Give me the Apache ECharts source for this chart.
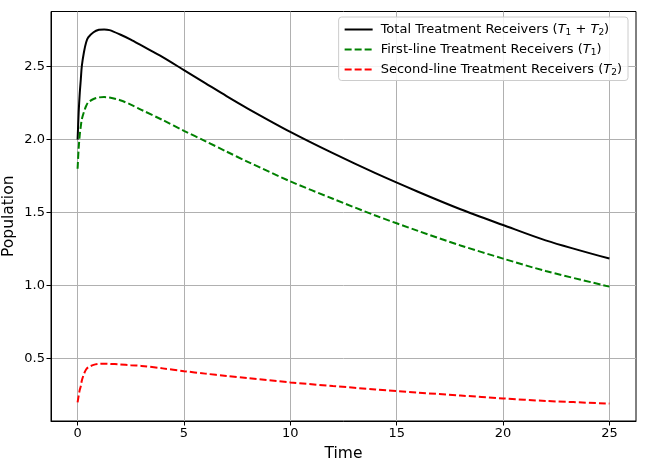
<!DOCTYPE html>
<html>
<head>
<meta charset="utf-8">
<script src="https://cdn.jsdelivr.net/npm/echarts@6/dist/echarts.min.js"></script>
<style>
html,body{margin:0;padding:0;background:#fff;}
#chart{width:652px;height:461px;}
</style>
</head>
<body>
<div id="chart"></div>
<script>
const time = [0, 0.05, 0.1, 0.15, 0.2, 0.3, 0.4, 0.5, 0.75, 1, 1.25, 1.5, 2, 2.5, 3, 4, 5, 6, 7, 8, 10, 12, 14, 16, 18, 20, 22, 25];
const total = [2.00, 2.185, 2.315, 2.41, 2.505, 2.60, 2.665, 2.70, 2.735, 2.752, 2.755, 2.75, 2.72, 2.685, 2.645, 2.565, 2.476, 2.387, 2.298, 2.213, 2.053, 1.907, 1.77, 1.643, 1.523, 1.415, 1.31, 1.185];
const firstLine = [1.80, 1.94, 2.03, 2.09, 2.14, 2.19, 2.23, 2.255, 2.278, 2.289, 2.291, 2.288, 2.27, 2.24, 2.204, 2.134, 2.06, 1.99, 1.918, 1.848, 1.714, 1.595, 1.48, 1.375, 1.275, 1.185, 1.10, 0.993];
const secondLine = [0.20, 0.245, 0.285, 0.31, 0.35, 0.395, 0.425, 0.44, 0.457, 0.464, 0.465, 0.464, 0.46, 0.455, 0.45, 0.433, 0.414, 0.397, 0.381, 0.366, 0.337, 0.312, 0.289, 0.267, 0.247, 0.227, 0.21, 0.192];
const xTicks = [0, 5, 10, 15, 20, 25];
const yTicks = [0.5, 1.0, 1.5, 2.0, 2.5];
const seriesNames = ['Total Treatment Receivers', 'First-line Treatment Receivers', 'Second-line Treatment Receivers'];

const pairs = arr => time.map((t, i) => [t, arr[i]]);
const font = 'DejaVu Sans';

const chart = echarts.init(document.getElementById('chart'), null, {renderer: 'canvas'});
chart.setOption({
  backgroundColor: '#fff',
  animation: false,
  grid: {left: 51, right: 16, top: 11.5, bottom: 40, containLabel: false, outerBoundsMode: 'none',
    show: true, borderColor: '#000', borderWidth: 1, backgroundColor: 'transparent'},
  xAxis: {
    type: 'value', min: -1.25, max: 26.25,
    name: 'Time', nameLocation: 'middle', nameGap: 25, nameMoveOverlap: false,
    nameTextStyle: {fontFamily: font, fontSize: 15.5, color: '#000'},
    axisLine: {show: true, onZero: false, lineStyle: {color: '#000', width: 1}},
    axisTick: {show: true, inside: false, length: 4.5, customValues: xTicks, lineStyle: {color: '#000'}},
    axisLabel: {customValues: xTicks, fontFamily: font, fontSize: 13, color: '#000', margin: 6},
    splitLine: {show: true, customValues: xTicks, lineStyle: {color: '#b0b0b0', width: 1}}
  },
  yAxis: {
    type: 'value', min: 0.0725, max: 2.8775,
    name: 'Population', nameLocation: 'middle', nameGap: 34, nameMoveOverlap: false,
    nameTextStyle: {fontFamily: font, fontSize: 15.5, color: '#000'},
    axisLine: {show: true, onZero: false, lineStyle: {color: '#000', width: 1}},
    axisTick: {show: true, inside: false, length: 4.5, customValues: yTicks, lineStyle: {color: '#000'}},
    axisLabel: {customValues: yTicks, fontFamily: font, fontSize: 13, color: '#000', margin: 6,
      formatter: v => v.toFixed(1)},
    splitLine: {show: true, customValues: yTicks, lineStyle: {color: '#b0b0b0', width: 1}}
  },
  legend: {
    orient: 'vertical', right: 24, top: 17,
    backgroundColor: 'rgba(255,255,255,0.85)', borderColor: '#cccccc', borderWidth: 1, borderRadius: 3,
    padding: [6, 6, 3, 5], itemWidth: 28, itemHeight: 14, itemGap: 5.5,
    itemStyle: {opacity: 0},
    textStyle: {fontFamily: font, fontSize: 13, color: '#000', padding: [0, 0, 0, 3],
      rich: {
        n: {fontFamily: font, fontSize: 13, color: '#000'},
        i: {fontFamily: font, fontSize: 13, fontStyle: 'italic', color: '#000'},
        s: {fontFamily: font, fontSize: 9, color: '#000', verticalAlign: 'bottom', padding: [7, 0, 0, 0]}
      }},
    formatter: name => {
      if (name === seriesNames[0]) return '{n|' + name + ' (}{i|T}{s|1}{n| + }{i|T}{s|2}{n|)}';
      if (name === seriesNames[1]) return '{n|' + name + ' (}{i|T}{s|1}{n|)}';
      return '{n|' + name + ' (}{i|T}{s|2}{n|)}';
    },
    data: seriesNames
  },
  series: [
    {name: seriesNames[0], type: 'line', data: pairs(total), smooth: 0.3, symbol: 'none',
      lineStyle: {color: '#000', width: 2, type: 'solid'}, itemStyle: {color: '#000'}},
    {name: seriesNames[1], type: 'line', data: pairs(firstLine), smooth: 0.3, symbol: 'none',
      lineStyle: {color: '#008000', width: 2, type: [7, 3]}, itemStyle: {color: '#008000'}},
    {name: seriesNames[2], type: 'line', data: pairs(secondLine), smooth: 0.3, symbol: 'none',
      lineStyle: {color: '#ff0000', width: 2, type: [7, 3]}, itemStyle: {color: '#ff0000'}}
  ]
});
</script>
</body>
</html>
